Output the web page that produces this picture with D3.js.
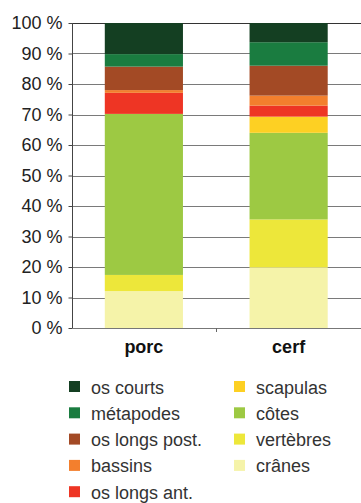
<!DOCTYPE html>
<html><head><meta charset="utf-8">
<script src="https://cdn.jsdelivr.net/npm/d3@7/dist/d3.min.js"></script>
<style>body{margin:0;background:#fff}svg{display:block;font-family:"Liberation Sans",Arial,sans-serif}</style>
</head><body><svg id="c" width="361" height="503"></svg>
<script>
const categories = ["porc", "cerf"];
const parts = ["crânes", "vertèbres", "côtes", "scapulas", "os longs ant.", "bassins", "os longs post.", "métapodes", "os courts"];
const porcValues = [12.1, 5.3, 52.8, 0, 6.9, 0.9, 7.7, 4.1, 10.2];
const cerfValues = [19.9, 15.7, 28.4, 5.3, 3.6, 3.3, 9.8, 7.7, 6.3];
const colors = ["#f5f3a9", "#ede73a", "#9dc943", "#fdd023", "#ee3524", "#f37f2d", "#a34a25", "#1a7c40", "#143f22"];
const tickValues = [0, 10, 20, 30, 40, 50, 60, 70, 80, 90, 100];
const legendCol1 = ["os courts", "métapodes", "os longs post.", "bassins", "os longs ant."];
const legendCol2 = ["scapulas", "côtes", "vertèbres", "crânes"];

const svg = d3.select("#c");
const x = d3.scaleBand().domain(categories).range([71.5, 361]).paddingInner(0.46).paddingOuter(0.23);
const y = d3.scaleLinear().domain([0, 100]).range([328, 23]);
const color = d3.scaleOrdinal().domain(parts).range(colors);

// gridlines
svg.append("g").selectAll("line").data(tickValues.filter(d => d > 0)).join("line")
  .attr("x1", 72).attr("x2", 361).attr("y1", d => Math.round(y(d)) + 0.5).attr("y2", d => Math.round(y(d)) + 0.5)
  .attr("stroke", d => d === 100 ? "#333" : "#7a7a7a").attr("stroke-width", 1);

// stacked bars
const table = parts.map((p, i) => ({ part: p, porc: porcValues[i], cerf: cerfValues[i] }));
const rows = categories.map(c => { const o = { cat: c }; table.forEach(t => o[t.part] = t[c]); return o; });
const series = d3.stack().keys(parts)(rows);
svg.append("g").selectAll("g").data(series).join("g").attr("fill", d => color(d.key))
  .selectAll("rect").data(d => d).join("rect")
  .attr("x", d => x(d.data.cat)).attr("width", x.bandwidth())
  .attr("y", d => y(d[1])).attr("height", d => y(d[0]) - y(d[1]));

// y axis
const yAxis = svg.append("g").attr("transform", "translate(72.5,0)")
  .call(d3.axisLeft(y).tickValues(tickValues).tickSize(4).tickPadding(6).tickFormat(d => d + " %"));
yAxis.select(".domain").attr("stroke", "#444").attr("d", "M0," + y(100) + "V" + y(0));
yAxis.selectAll(".tick line").attr("stroke", "#444");
yAxis.selectAll("text").attr("font-size", 18).attr("fill", "#222").attr("font-family", "Liberation Sans, Arial, sans-serif");

// x axis
const xAxis = svg.append("g").attr("transform", "translate(0,328.5)")
  .call(d3.axisBottom(x).tickSize(0).tickPadding(0));
xAxis.select(".domain").attr("stroke", "#777").attr("d", "M72,0H361");
xAxis.selectAll("text").attr("font-size", 18).attr("font-weight", "bold").attr("fill", "#111")
  .attr("dy", 0).attr("y", 24.5).attr("font-family", "Liberation Sans, Arial, sans-serif");
svg.append("line").attr("x1", 216.5).attr("x2", 216.5).attr("y1", 328).attr("y2", 332).attr("stroke", "#666");

// legend
function legendCol(items, sx, tx) {
  const g = svg.append("g");
  const rowsG = g.selectAll("g").data(items).join("g").attr("transform", (d, i) => `translate(0,${381 + i * 26.3})`);
  rowsG.append("rect").attr("x", sx).attr("width", 11).attr("height", 11).attr("fill", d => color(d));
  rowsG.append("text").attr("x", tx).attr("y", 12.5).attr("font-size", 18).attr("fill", "#333").text(d => d);
}
legendCol(legendCol1, 69, 91);
legendCol(legendCol2, 234, 256);
</script></body></html>
